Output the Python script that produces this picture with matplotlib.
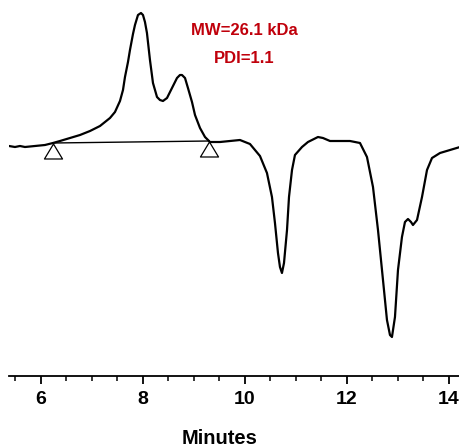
import matplotlib
matplotlib.use("Agg")
import matplotlib.pyplot as plt

plt.rcParams['font.family'] = ['Liberation Sans', 'DejaVu Sans']

# Chromatogram trace (minutes, detector signal in arbitrary units)
time_min = [5.373, 5.490, 5.588, 5.686, 5.882, 6.078, 6.235, 6.373, 6.569, 6.765,
            6.961, 7.157, 7.353, 7.451, 7.549, 7.608, 7.647, 7.706, 7.745, 7.804,
            7.843, 7.902, 7.961, 8.000, 8.039, 8.078, 8.137, 8.196, 8.275, 8.333,
            8.392, 8.471, 8.569, 8.667, 8.725, 8.765, 8.824, 8.882, 8.961, 9.020,
            9.118, 9.216, 9.314, 9.510, 9.706, 9.902, 10.098, 10.294, 10.431, 10.529,
            10.588, 10.647, 10.686, 10.725, 10.765, 10.824, 10.863, 10.922, 10.980, 11.118,
            11.235, 11.431, 11.529, 11.667, 11.863, 12.059, 12.255, 12.392, 12.510, 12.608,
            12.706, 12.784, 12.843, 12.882, 12.941, 13.000, 13.078, 13.137, 13.196, 13.255,
            13.294, 13.373, 13.471, 13.569, 13.667, 13.824, 14.020, 14.216]
signal = [0, -1, 0, -1, 0, 1, 3, 5, 8, 11,
          15, 20, 28, 34, 45, 56, 69, 84, 96, 112,
          121, 131, 133, 131, 124, 113, 86, 63, 49, 46,
          45, 48, 58, 68, 71, 71, 68, 58, 44, 31,
          18, 9, 4, 4, 5, 6, 2, -10, -27, -51,
          -77, -107, -121, -127, -117, -84, -51, -24, -9, -1,
          4, 9, 8, 5, 5, 5, 3, -11, -41, -84,
          -134, -174, -189, -191, -171, -124, -91, -76, -73, -76,
          -79, -74, -51, -24, -12, -7, -4, -1]

# Integration baseline end points
base_t = [6.235, 9.30]
base_s = [3, 5]

xticks = [6, 8, 10, 12, 14]
mw_text = "MW=26.1 kDa"
pdi_text = "PDI=1.1"

fig = plt.figure(figsize=(4.6, 4.48), dpi=100)
ax = fig.add_axes([9/460, 1 - 376/448, 451/460, 376/448])

ax.plot(time_min, signal, color='black', lw=1.6, solid_joinstyle='round', solid_capstyle='round')
ax.plot(base_t, base_s, color='black', lw=1.0)

tri = [(0, 0.83), (-1, -0.83), (1, -0.83), (0, 0.83)]
ax.plot(base_t, [s - 8 for s in base_s], linestyle='none', marker=tri,
        markersize=13, markerfacecolor='none', markeredgecolor='black', markeredgewidth=0.9)

ax.text(9.98, 116, mw_text, color='#c0000b', fontsize=12, fontweight='bold', ha='center', va='center')
ax.text(9.98, 88, pdi_text, color='#c0000b', fontsize=12, fontweight='bold', ha='center', va='center')

ax.set_xlim(5.373, 14.216)
ax.set_ylim(-230, 146)

for side in ['left', 'right', 'top']:
    ax.spines[side].set_visible(False)
ax.spines['bottom'].set_linewidth(1.3)
ax.set_yticks([])
ax.set_xticks(xticks)
ax.set_xticks([x / 2 for x in range(11, 29)], minor=True)
ax.tick_params(axis='x', which='major', direction='out', length=6, width=1.3, pad=5, labelsize=14)
ax.tick_params(axis='x', which='minor', direction='out', length=3.5, width=1.1)
for lab in ax.get_xticklabels():
    lab.set_fontweight('bold')
ax.set_xlabel('Minutes', fontsize=14.5, fontweight='bold', va='center')
ax.xaxis.set_label_coords(0.466, -0.167)

fig.savefig('out.png', dpi=100)
